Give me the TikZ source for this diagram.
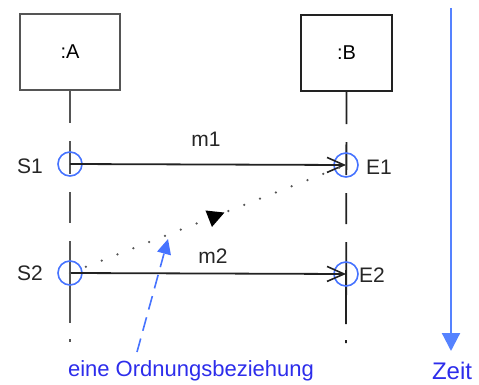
\documentclass[tikz,border=0pt]{standalone}
\usepackage{fontspec}
\setmainfont{Liberation Sans}
\usetikzlibrary{arrows.meta,decorations.markings}
\definecolor{evblue}{RGB}{70,115,255}
\definecolor{txtblue}{RGB}{45,45,235}
\definecolor{timeblue}{RGB}{85,130,255}
\definecolor{lineA}{RGB}{85,85,85}
\definecolor{lineB}{RGB}{34,34,34}
\tikzset{
  objbox/.style={draw=lineB, line width=2.2pt, minimum width=#1, minimum height=76pt, inner sep=0pt,
    font=\fontsize{20}{24}\selectfont},
  evt/.style={circle, draw=evblue, line width=1.6pt, minimum size=24pt, inner sep=0pt},
  lbl/.style={font=\fontsize{21}{25}\selectfont, inner sep=0pt, text=black!85},
  lifeline/.style={dash pattern=on 32pt off 18pt on 33pt off 18pt on 31pt off 18pt on 82pt off 16pt on 4pt},
  msg/.style={line width=1.8pt, draw=lineB, -{Straight Barb[length=17pt,width=15pt,line width=1.6pt]}},
  order/.style={draw=lineA, line width=2.5pt, line cap=round, dash pattern=on 0pt off 17pt,
    postaction={decorate, decoration={markings, mark=at position 0.56 with {\arrow[fill=black,draw=black]{Triangle[length=17pt,width=17pt]}}}}},
  bluetxt/.style={font=\fontsize{22}{26}\selectfont, text=txtblue, inner sep=0pt},
}
\begin{document}
\begin{tikzpicture}[x=1pt,y=-1pt]
\useasboundingbox (0,0) rectangle (479,385);
% objects
\node[objbox=100pt, draw=lineA, line width=2.6pt] (A) at (70,52) {:A};
\node[objbox=91pt] (B) at (346.5,53) {:B};
% lifeline ends
\coordinate (Aend) at (70,342);
\coordinate (Bend) at (346,343);
\draw[lifeline, draw=lineA, line width=2.6pt] (A.south) -- (Aend);
\draw[lifeline, draw=lineB, line width=1.8pt] (B.south) -- (Bend);
% events
\node[evt] (S1c) at (70,164) {};
\node[evt] (S2c) at (70,273) {};
\node[evt] (E1c) at (346,165) {};
\node[evt] (E2c) at (346,274) {};
\node[lbl, anchor=east] (S1) at (43,166) {S1};
\node[lbl, anchor=east] (S2) at (43,273) {S2};
\node[lbl, anchor=west] (E1) at (366,167) {E1};
\node[lbl, anchor=west] (E2) at (359,275) {E2};
% messages
\draw[msg] (S1c.center) -- (E1c.center);
\draw[msg] (S2c.center) -- (E2c.center);
\node[lbl] (m1) at (206,139) {m1};
\node[lbl] (m2) at (213,256) {m2};
% ordering relation
\draw[order] (S2c.center) -- (E1c.center);
% annotation
\node[bluetxt] (ord) at (191,371) {eine Ordnungsbeziehung};
\coordinate (ordstart) at (137,352);
\coordinate (ordtip) at (168,239);
\draw[draw=evblue, line width=1.6pt, dash pattern=on 14pt off 8pt,
  -{Triangle[length=15pt,width=14pt]}] (ordstart) -- (ordtip);
% time axis
\coordinate (ttop) at (451,8);
\coordinate (tbot) at (451,351);
\draw[draw=timeblue, line width=2.2pt, -{Triangle[length=18pt,width=18pt]}] (ttop) -- (tbot);
\node[bluetxt, font=\fontsize{24}{28}\selectfont] (zeit) at (452,371) {Zeit};
\end{tikzpicture}
\end{document}
